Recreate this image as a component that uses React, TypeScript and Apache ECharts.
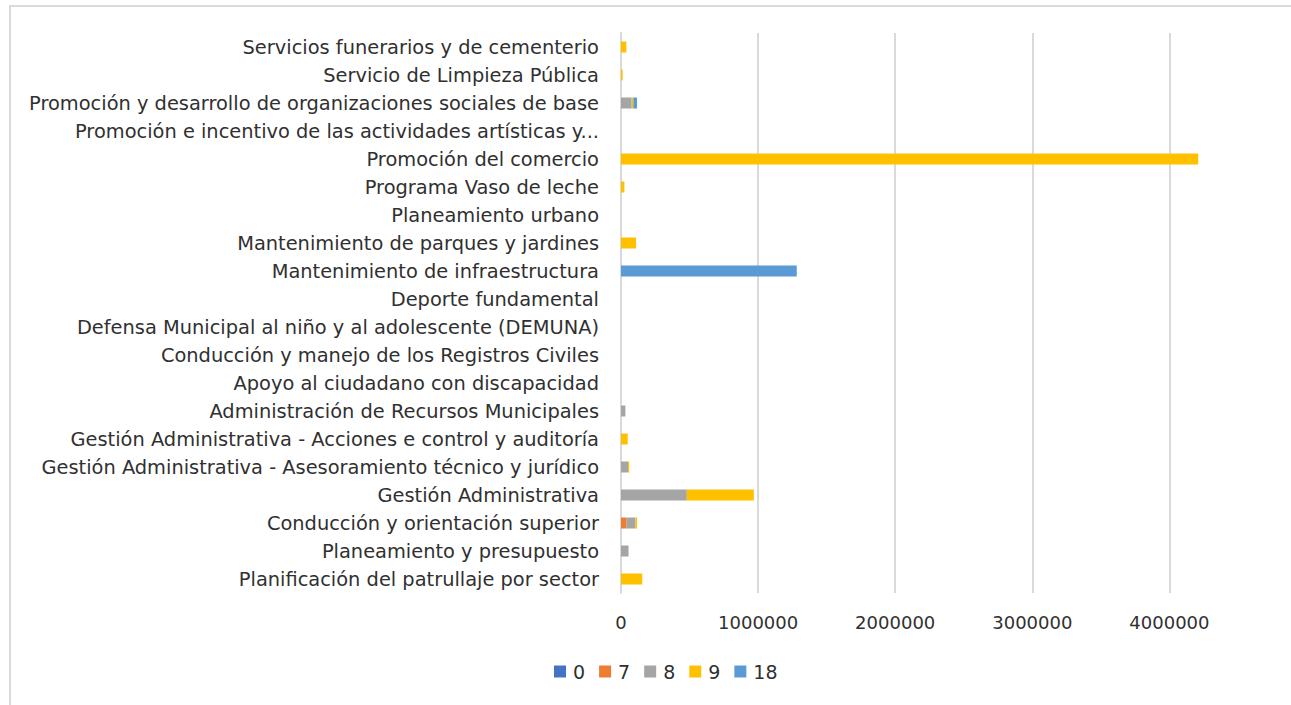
import React, { useEffect, useRef } from "react";
import * as echarts from "echarts";

const categories = [
  "Planificación del patrullaje por sector",
  "Planeamiento y presupuesto",
  "Conducción y orientación superior",
  "Gestión Administrativa",
  "Gestión Administrativa - Asesoramiento técnico y jurídico",
  "Gestión Administrativa - Acciones e control y auditoría",
  "Administración de Recursos Municipales",
  "Apoyo al ciudadano con discapacidad",
  "Conducción y manejo de los Registros Civiles",
  "Defensa Municipal al niño y al adolescente (DEMUNA)",
  "Deporte fundamental",
  "Mantenimiento de infraestructura",
  "Mantenimiento de parques y jardines",
  "Planeamiento urbano",
  "Programa Vaso de leche",
  "Promoción del comercio",
  "Promoción e incentivo de las actividades artísticas y...",
  "Promoción y desarrollo de organizaciones sociales de base",
  "Servicio de Limpieza Pública",
  "Servicios funerarios y de cementerio",
];

const seriesNames = ["0", "7", "8", "9", "18"];
const values0 = [0, 0, 0, 0, 0, 0, 0, 0, 0, 0, 0, 0, 0, 0, 0, 0, 0, 0, 0, 0];
const values7 = [0, 0, 41000, 0, 0, 0, 0, 0, 0, 0, 0, 0, 0, 0, 0, 0, 0, 0, 0, 0];
const values8 = [0, 55000, 64000, 480000, 51000, 0, 32000, 0, 0, 0, 0, 0, 0, 0, 0, 0, 0, 78000, 0, 0];
const values9 = [155000, 0, 12000, 489000, 9000, 49000, 0, 0, 0, 0, 0, 0, 110000, 0, 25000, 4210000, 0, 12000, 12000, 39000];
const values18 = [0, 0, 0, 0, 0, 0, 0, 0, 0, 0, 0, 1282000, 0, 0, 0, 0, 0, 27000, 0, 0];
const tickValues = [0, 1000000, 2000000, 3000000, 4000000, 5000000];

const colors = ["#4472C4", "#ED7D31", "#A5A5A5", "#FFC000", "#5B9BD5"];
const allValues = [values0, values7, values8, values9, values18];

const FONT = "DejaVu Sans";
const TEXT = "#303030";

export default function App() {
  const ref = useRef<HTMLDivElement>(null);
  useEffect(() => {
    if (!ref.current) return;
    const chart = echarts.init(ref.current, null, { renderer: "svg" });
    chart.setOption({
      animation: false,
      backgroundColor: "#ffffff",
      color: colors,
      textStyle: { fontFamily: FONT },
      graphic: [
        {
          type: "rect",
          shape: { x: 10, y: 6, width: 1500, height: 900 },
          style: { fill: "none", stroke: "#D9D9D9", lineWidth: 2 },
          silent: true,
        },
      ],
      grid: { left: 621, top: 33, width: 685.5, height: 560, containLabel: false },
      legend: {
        data: seriesNames,
        left: 549,
        top: 657,
        itemWidth: 12,
        itemHeight: 12,
        itemGap: 14,
        icon: "rect",
        textStyle: { fontSize: 19, color: TEXT, fontFamily: FONT, padding: [0, 0, 0, 2] },
      },
      xAxis: {
        type: "value",
        min: tickValues[0],
        max: tickValues[tickValues.length - 1],
        interval: 1000000,
        axisLine: { show: false },
        axisTick: { show: false },
        axisLabel: {
          fontSize: 18,
          color: TEXT,
          margin: 20,
          fontFamily: FONT,
          formatter: (v: number) => (v >= tickValues[tickValues.length - 1] ? "" : String(v)),
        },
        splitLine: { lineStyle: { color: "#D9D9D9", width: 2 } },
      },
      yAxis: {
        type: "category",
        data: categories,
        axisLine: { show: true, lineStyle: { color: "#D9D9D9", width: 2 } },
        axisTick: { show: false },
        axisLabel: { fontSize: 19.4, color: TEXT, margin: 22, fontFamily: FONT },
      },
      series: seriesNames.map((n, i) => ({
        name: n,
        type: "bar",
        stack: "total",
        barWidth: 11,
        data: allValues[i],
        itemStyle: { color: colors[i] },
      })),
    });
    return () => chart.dispose();
  }, []);
  return (
    <div
      style={{
        position: "fixed",
        left: 0,
        top: 0,
        width: 1291,
        height: 705,
        overflow: "hidden",
        background: "#fff",
      }}
    >
      <div ref={ref} style={{ width: 1340, height: 720 }} />
    </div>
  );
}
